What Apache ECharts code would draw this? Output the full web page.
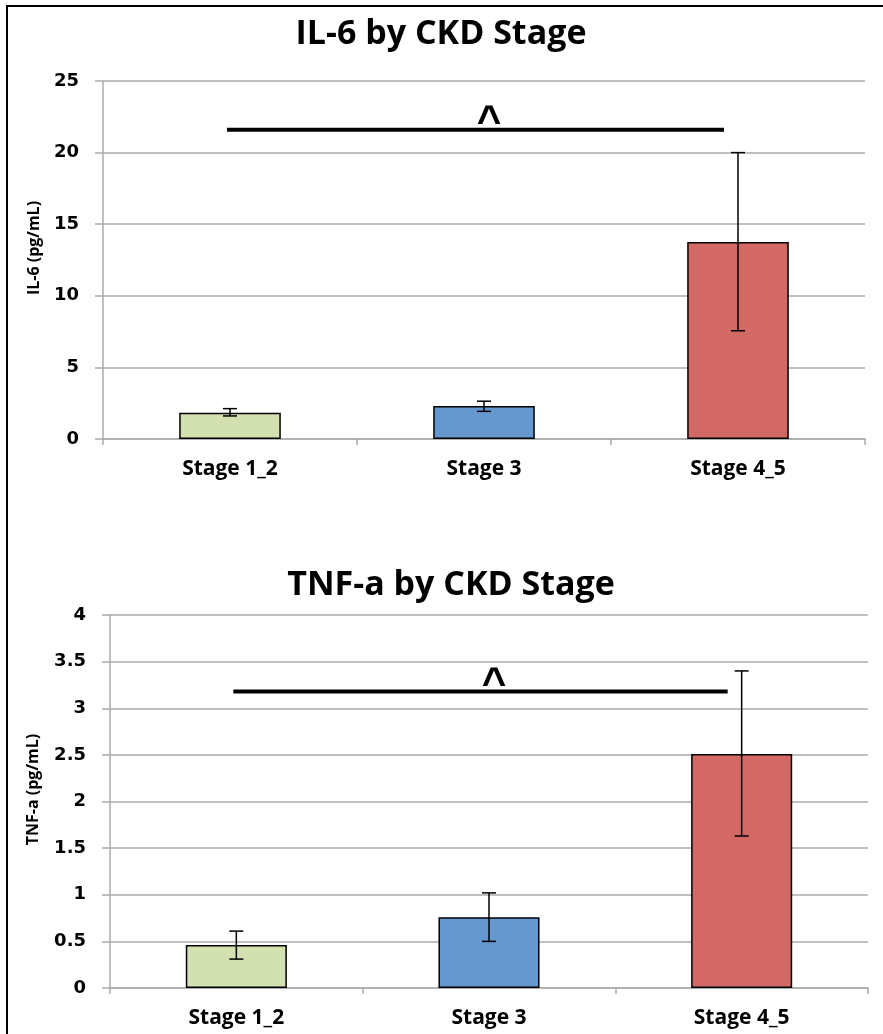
<!DOCTYPE html>
<html>
<head>
<meta charset="utf-8">
<title>IL-6 and TNF-a by CKD Stage</title>
<script src="https://cdn.jsdelivr.net/npm/echarts@6/dist/echarts.min.js"></script>
<style>
  html, body { margin: 0; padding: 0; background: #ffffff; }
  #chart { width: 883px; height: 1034px; }
</style>
</head>
<body>
<div id="chart"></div>
<script>
// CKD stage groups shared by both panels
const stages = ['Stage 1_2', 'Stage 3', 'Stage 4_5'];

// IL-6 (pg/mL): group means with lower / upper error limits
const il6Mean = [1.84, 2.30, 13.75];
const il6Low = [1.61, 1.93, 7.56];
const il6High = [2.12, 2.64, 20.0];

// TNF-a (pg/mL): group means with lower / upper error limits
const tnfMean = [0.46, 0.76, 2.51];
const tnfLow = [0.31, 0.50, 1.63];
const tnfHigh = [0.61, 1.02, 3.40];

// Height of the significance bracket (Stage 1_2 vs Stage 4_5) in each panel
const il6SigLevel = 21.6;
const tnfSigLevel = 3.18;
const sigMark = '^';

const stageColors = ['#D3E0B0', '#6498CF', '#D36964'];
const gridGray = '#ABABAB';
const labelFont = '"Open Sans", "Noto Sans", sans-serif';
const tickFont = '"DejaVu Sans", Verdana, sans-serif';

const chart = echarts.init(document.getElementById('chart'), null, { renderer: 'canvas' });

function barData(values) {
  return values.map((v, i) => ({ value: v, itemStyle: { color: stageColors[i] } }));
}

function errorData(low, high) {
  return low.map((lo, i) => [i, lo, high[i]]);
}

function renderErrorBar(params, api) {
  const x = api.value(0);
  const top = api.coord([x, api.value(2)]);
  const bottom = api.coord([x, api.value(1)]);
  const half = 7;
  const style = { stroke: '#000000', lineWidth: 1.5 };
  return {
    type: 'group',
    children: [
      { type: 'line', shape: { x1: top[0], y1: top[1], x2: bottom[0], y2: bottom[1] }, style },
      { type: 'line', shape: { x1: top[0] - half, y1: top[1], x2: top[0] + half, y2: top[1] }, style },
      { type: 'line', shape: { x1: bottom[0] - half, y1: bottom[1], x2: bottom[0] + half, y2: bottom[1] }, style }
    ]
  };
}

function renderSigBracket(params, api) {
  const level = api.value(2);
  const start = api.coord([api.value(0), level]);
  const end = api.coord([api.value(1), level]);
  const mid = api.coord([1, level]);
  return {
    type: 'group',
    children: [
      {
        type: 'line',
        shape: { x1: start[0] - 3, y1: start[1], x2: end[0] - 14, y2: end[1] },
        style: { stroke: '#000000', lineWidth: 4 }
      },
      {
        type: 'text',
        x: mid[0] + 5,
        y: mid[1] - 6,
        style: {
          text: sigMark,
          fill: '#000000',
          font: 'bold 42px "Liberation Sans", Arial, sans-serif',
          align: 'center',
          verticalAlign: 'middle'
        }
      }
    ]
  };
}

function categoryAxis(gridIndex) {
  return {
    type: 'category',
    gridIndex,
    data: stages,
    axisLine: { show: true, lineStyle: { color: gridGray, width: 1.5 } },
    axisTick: { show: true, length: 6, lineStyle: { color: gridGray, width: 1.5 } },
    axisLabel: {
      margin: 20,
      color: '#000000',
      fontFamily: labelFont,
      fontWeight: 'bold',
      fontSize: 21
    }
  };
}

function valueAxis(gridIndex, name, max, interval, nameGap) {
  return {
    type: 'value',
    gridIndex,
    min: 0,
    max,
    interval,
    name,
    nameLocation: 'middle',
    nameGap,
    nameRotate: 90,
    nameTextStyle: {
      color: '#000000',
      fontFamily: labelFont,
      fontWeight: 'bold',
      fontSize: 16,
      padding: [0, 0, 0, 24]
    },
    axisLine: { show: true, lineStyle: { color: gridGray, width: 1.5 } },
    axisTick: { show: true, length: 8, lineStyle: { color: gridGray, width: 1.5 } },
    axisLabel: {
      margin: 24,
      color: '#000000',
      fontFamily: tickFont,
      fontWeight: 'bold',
      fontSize: 18
    },
    splitLine: { show: true, lineStyle: { color: gridGray, width: 1.5 } }
  };
}

const option = {
  backgroundColor: '#ffffff',
  animation: false,
  title: [
    {
      text: 'IL-6 by CKD Stage',
      left: 436,
      top: 12,
      textAlign: 'center',
      textStyle: { fontFamily: labelFont, fontWeight: 'bold', fontSize: 34, color: '#000000' }
    },
    {
      text: 'TNF-a by CKD Stage',
      left: 446,
      top: 563,
      textAlign: 'center',
      textStyle: { fontFamily: labelFont, fontWeight: 'bold', fontSize: 34, color: '#000000' }
    }
  ],
  grid: [
    { left: 103, right: 18, top: 81, bottom: 595 },
    { left: 110, right: 15, top: 615, bottom: 46 }
  ],
  xAxis: [categoryAxis(0), categoryAxis(1)],
  yAxis: [
    valueAxis(0, 'IL-6 (pg/mL)', 25, 5, 61),
    valueAxis(1, 'TNF-a (pg/mL)', 4, 0.5, 69)
  ],
  graphic: [
    {
      type: 'polyline',
      shape: { points: [[7, 1034], [7, 6], [883, 6]] },
      style: { stroke: '#000000', lineWidth: 2, fill: null }
    }
  ],
  series: [
    {
      name: 'IL-6',
      type: 'bar',
      xAxisIndex: 0,
      yAxisIndex: 0,
      barCategoryGap: '60%',
      data: barData(il6Mean),
      itemStyle: { borderColor: '#000000', borderWidth: 1.5 }
    },
    {
      name: 'IL-6 error',
      type: 'custom',
      xAxisIndex: 0,
      yAxisIndex: 0,
      data: errorData(il6Low, il6High),
      renderItem: renderErrorBar,
      z: 5
    },
    {
      name: 'IL-6 significance',
      type: 'custom',
      xAxisIndex: 0,
      yAxisIndex: 0,
      data: [[0, 2, il6SigLevel]],
      renderItem: renderSigBracket,
      z: 6
    },
    {
      name: 'TNF-a',
      type: 'bar',
      xAxisIndex: 1,
      yAxisIndex: 1,
      barCategoryGap: '60%',
      data: barData(tnfMean),
      itemStyle: { borderColor: '#000000', borderWidth: 1.5 }
    },
    {
      name: 'TNF-a error',
      type: 'custom',
      xAxisIndex: 1,
      yAxisIndex: 1,
      data: errorData(tnfLow, tnfHigh),
      renderItem: renderErrorBar,
      z: 5
    },
    {
      name: 'TNF-a significance',
      type: 'custom',
      xAxisIndex: 1,
      yAxisIndex: 1,
      data: [[0, 2, tnfSigLevel]],
      renderItem: renderSigBracket,
      z: 6
    }
  ]
};

chart.setOption(option);
</script>
</body>
</html>
